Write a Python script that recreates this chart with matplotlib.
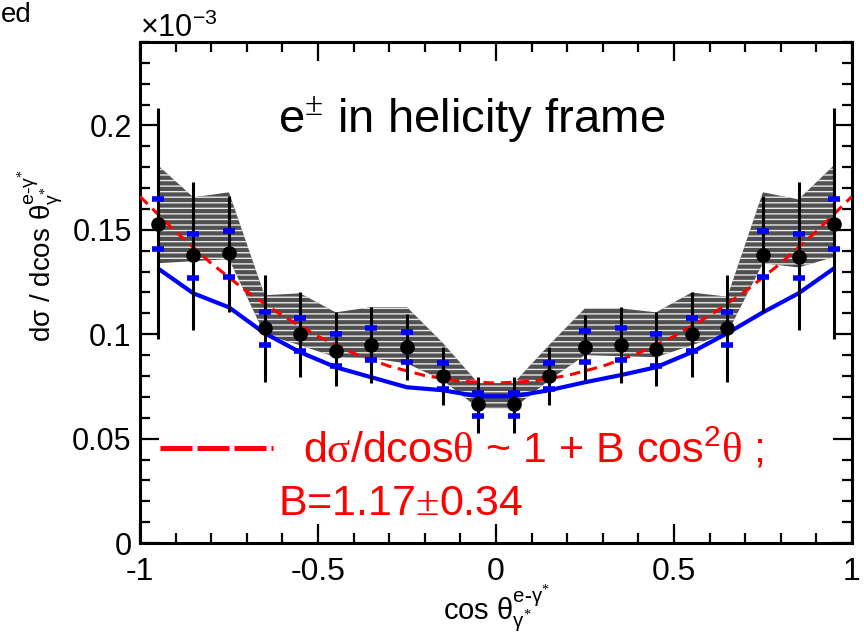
import numpy as np
import matplotlib
matplotlib.use("Agg")
import matplotlib.pyplot as plt
from matplotlib.ticker import MultipleLocator

plt.rcParams['font.family'] = ['Liberation Sans', 'DejaVu Sans']
plt.rcParams['mathtext.fontset'] = 'custom'
plt.rcParams['mathtext.rm'] = 'Liberation Serif'
plt.rcParams['mathtext.sf'] = 'Liberation Sans'
plt.rcParams['mathtext.it'] = 'Liberation Sans:italic'
plt.rcParams['axes.unicode_minus'] = False
plt.rcParams['hatch.linewidth'] = 1.0

# bin centres of cos theta
xbins = [-0.95, -0.85, -0.75, -0.65, -0.55, -0.45, -0.35, -0.25, -0.15, -0.05,
         0.05, 0.15, 0.25, 0.35, 0.45, 0.55, 0.65, 0.75, 0.85, 0.95]

# measured points (x 10^-3)
ydata = [0.153, 0.138, 0.139, 0.103, 0.100, 0.092, 0.095, 0.094, 0.080, 0.0665,
         0.0665, 0.080, 0.094, 0.095, 0.093, 0.100, 0.103, 0.138, 0.137, 0.153]
stat_hi = [0.2086, 0.1727, 0.166, 0.1282, 0.120, 0.1105, 0.1129, 0.1096, 0.0938, 0.0794,
           0.0794, 0.0938, 0.109, 0.1129, 0.1105, 0.120, 0.1282, 0.166, 0.1727, 0.2086]
stat_lo = [0.0976, 0.1019, 0.1105, 0.077, 0.0794, 0.0751, 0.0766, 0.078, 0.066, 0.0526,
           0.0526, 0.066, 0.078, 0.0766, 0.0751, 0.0794, 0.077, 0.1105, 0.1019, 0.0976]
syst_hi = [0.165, 0.1478, 0.1493, 0.1105, 0.1077, 0.100, 0.1029, 0.101, 0.0861, 0.0718,
           0.0718, 0.0861, 0.1014, 0.1029, 0.100, 0.1077, 0.1105, 0.1493, 0.1478, 0.165]
syst_lo = [0.141, 0.1268, 0.1273, 0.0947, 0.0919, 0.0847, 0.0876, 0.0866, 0.0737, 0.0608,
           0.0608, 0.0737, 0.0866, 0.0876, 0.0847, 0.0919, 0.0947, 0.1273, 0.1268, 0.141]

# grey band
band_hi = [0.181, 0.1656, 0.168, 0.1187, 0.1196, 0.1105, 0.113, 0.113, 0.096, 0.0766,
           0.0766, 0.095, 0.1124, 0.1124, 0.1105, 0.120, 0.118, 0.168, 0.1646, 0.181]
band_lo = [0.134, 0.135, 0.136, 0.100, 0.0947, 0.089, 0.0885, 0.086, 0.078, 0.0646,
           0.0646, 0.078, 0.090, 0.0895, 0.089, 0.0947, 0.1005, 0.134, 0.132, 0.137]

# blue model curve
model = [0.1316, 0.1196, 0.1129, 0.1005, 0.0914, 0.0842, 0.0794, 0.0746, 0.0732, 0.0703,
         0.0703, 0.0732, 0.077, 0.0804, 0.0842, 0.0914, 0.1005, 0.1105, 0.1196, 0.1316]

# red fit curve
xfit = [-1.0, -0.9, -0.8, -0.7, -0.6, -0.5, -0.4, -0.3, -0.2, -0.1, 0.0,
        0.1, 0.2, 0.3, 0.4, 0.5, 0.6, 0.7, 0.8, 0.9, 1.0]
yfit = [0.166, 0.1492, 0.134, 0.1205, 0.1089, 0.099, 0.0909, 0.0847, 0.0802, 0.0775, 0.0766,
        0.0775, 0.0802, 0.0847, 0.0909, 0.099, 0.1089, 0.1205, 0.134, 0.1492, 0.166]

xb = np.array(xbins)
yd = np.array(ydata)

fig = plt.figure(figsize=(8.64, 6.36), dpi=100)
ax = fig.add_axes([0.162, 0.1462, 0.824, 0.7878])

ax.fill_between(xb, band_lo, band_hi, facecolor='#505050', edgecolor='#e8e8e8',
                hatch='---', linewidth=0, zorder=1)
ax.plot(xb, model, color='#0000ff', lw=3.0, zorder=2, solid_capstyle='butt')
ax.plot(xfit, yfit, color='#ff0000', lw=2.2, ls=(0, (3.5, 2.2)), zorder=3)
ax.errorbar(xb, yd, yerr=[yd - np.array(stat_lo), np.array(stat_hi) - yd], fmt='none',
            ecolor='black', elinewidth=2.2, capsize=0, zorder=4)
ax.plot(xb, yd, 'o', color='black', ms=9.5, zorder=5)
ax.plot(xb, syst_hi, '_', color='#0000ff', ms=8, mew=4, zorder=6)
ax.plot(xb, syst_lo, '_', color='#0000ff', ms=8, mew=4, zorder=6)

ax.set_xlim(-1, 1)
ax.set_ylim(0, 0.24)
ax.set_xticks([-1, -0.5, 0, 0.5, 1])
ax.set_xticklabels(['-1', '-0.5', '0', '0.5', '1'])
ax.set_yticks([0, 0.05, 0.1, 0.15, 0.2])
ax.set_yticklabels(['0', '0.05', '0.1', '0.15', '0.2'])
ax.xaxis.set_minor_locator(MultipleLocator(0.1))
ax.yaxis.set_minor_locator(MultipleLocator(0.01))
ax.tick_params(which='both', direction='in', top=True, right=True, width=1.6)
ax.tick_params(which='major', length=14)
ax.tick_params(which='minor', length=7)
ax.tick_params(axis='x', labelsize=23, pad=10)
ax.tick_params(axis='y', labelsize=22, pad=6)
for s in ax.spines.values():
    s.set_linewidth(2.2)

ax.set_xlabel(r'cos $\mathsf{\theta}^{\mathsf{e}\text{-}\mathsf{\gamma}^{*}}_{\mathsf{\gamma}^{*}}$',
              fontsize=21, labelpad=-2)
ax.set_ylabel(r'd$\mathsf{\sigma}$ / dcos $\mathsf{\theta}^{\mathsf{e}\text{-}\mathsf{\gamma}^{*}}_{\mathsf{\gamma}^{*}}$',
              fontsize=20)
ax.yaxis.set_label_coords(-0.104, 0.573)

ax.text(0.194, 0.818, r'e$^{\pm}$ in helicity frame', transform=ax.transAxes,
        fontsize=34, va='baseline', ha='left')

# fit legend
ax.plot([0.028, 0.187], [0.19, 0.19], transform=ax.transAxes, color='#ff0000',
        lw=3.6, ls=(0, (6.4, 1.0)), solid_capstyle='butt', zorder=7)
ax.text(0.229, 0.16, r'd$\mathrm{\sigma}$/dcos$\mathrm{\theta}$ ~ 1 + B cos$^{\mathsf{2}}\mathrm{\theta}$ ;',
        transform=ax.transAxes, fontsize=31, color='#ff0000', va='baseline', ha='left')
ax.text(0.194, 0.056, r'B=1.17$\mathrm{\pm}$0.34', transform=ax.transAxes,
        fontsize=31, color='#ff0000', va='baseline', ha='left')

fig.text(140 / 864, 1 - 37 / 636, r'×10$^{\mathsf{-3}}$', fontsize=22, ha='left', va='baseline')
fig.text(1 / 864, 1 - 22 / 636, 'ed', fontsize=20, ha='left', va='baseline')

fig.savefig('out.png', dpi=100)
